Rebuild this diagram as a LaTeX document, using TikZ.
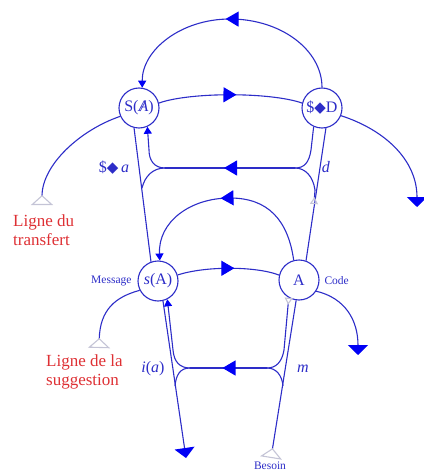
\documentclass[tikz,border=0pt]{standalone}
\usepackage{fontspec}
\setmainfont{Liberation Serif}
\newfontfamily\symfont{DejaVu Sans}
\usepackage{tikz}
\usetikzlibrary{arrows.meta,decorations.markings}

\definecolor{lineblue}{RGB}{45,45,200}
\definecolor{tipblue}{RGB}{0,0,245}
\definecolor{labelred}{RGB}{222,48,52}
\definecolor{markgray}{RGB}{196,196,214}

\newcommand{\barS}{\$}
\newcommand{\losange}{{\symfont\fontsize{15}{15}\selectfont ◆}}
\newcommand{\barA}{\ooalign{\textit{A}\cr\hidewidth\textit{/}\hidewidth}}

\begin{document}
\begin{tikzpicture}[x=1pt, y=-1pt, every node/.style={font=\fontsize{16}{18}\selectfont, text=lineblue}]
  \tikzstyle{ring} = [circle, draw=lineblue, line width=1.1pt, minimum size=40pt, inner sep=0pt]
  \tikzstyle{line} = [draw=lineblue, line width=1.1pt]
  \tikzstyle{midarrow} = [postaction={decorate}, decoration={markings, mark=at position 0.5 with {\arrow[xshift=6pt]{Triangle[width=15pt,length=13pt,color=tipblue]}}}]
  \tikzstyle{endtip} = [-{Triangle[width=8pt,length=7pt,color=tipblue]}]
  \tikzstyle{bigtip} = [-{Triangle[width=20pt,length=10pt,color=tipblue]}]
  \tikzstyle{startmark} = [{Triangle[open,reversed,width=8pt,length=7pt,color=markgray]}-]
  \tikzstyle{bigstart} = [{Triangle[open,reversed,width=22pt,length=10pt,color=markgray]}-]
  \tikzstyle{smalllabel} = [font=\fontsize{11.5}{13}\selectfont]
  \tikzstyle{redlabel} = [text=labelred, align=left, inner sep=0pt, font=\fontsize{17}{19}\selectfont]
  \useasboundingbox (0,0) rectangle (423,473);

  % Places
  \node[ring] (SA) at (139,108) {S(\barA)};
  \node[ring] (SD) at (322,108) {\barS\losange D};
  \node[ring] (sA) at (158,281) {\textit{s}(A)};
  \node[ring] (A) at (299,280) {A};

  % Free ends and forks
  \coordinate (transfert) at (42,205);
  \coordinate (suggestion) at (99,348);
  \coordinate (besoin) at (271,458);
  \coordinate (outD) at (417,207);
  \coordinate (outA) at (358,355);
  \coordinate (outsA) at (186,458);
  \coordinate (dmark) at (314,204);
  \coordinate (ur) at (295,168);
  \coordinate (ul) at (165,168);
  \coordinate (lr) at (267,368);
  \coordinate (ll) at (190,368);

  % Labels
  \node[redlabel, anchor=north west] (ltransfert) at (13,215) {Ligne du\\transfert};
  \node[redlabel, anchor=north west] (lsuggestion) at (46,355) {Ligne de la\\suggestion};
  \node (lsa) at (114,168) {\barS\losange\,\textit{a}};
  \node (ld) at (326,167) {\textit{d}};
  \node (lia) at (153,369) {\textit{i}(\textit{a})};
  \node (lm) at (303,369) {\textit{m}};
  \node[smalllabel, anchor=east] (lmessage) at (135,281) {Message};
  \node[smalllabel, anchor=west] (lcode) at (321,281) {Code};
  \node[smalllabel] (lbesoin) at (270,466) {Besoin};

  % Upper level
  \draw[line, midarrow, endtip] (SD.90) .. controls (322,50) and (281,19) .. (230,19) .. controls (181,19) and (142,50) .. (SA.81);
  \draw[line, midarrow] (SA.14) .. controls (190,92) and (270,92) .. (SD.166);
  \draw[line, bigstart] (transfert) .. controls (42,165) and (80,130) .. (SA.-156);
  \draw[line, bigtip] (SD.-22) .. controls (385,130) and (417,160) .. (outD);
  \draw[line] (SA.-104) -- (sA.110);
  \draw[line] (SD.-79) -- (A.70);
  \draw[line, midarrow] (ur) -- (ul);
  \draw[line] (SD.-114) -- (311,150) .. controls (309,163) and (304,168) .. (ur);
  \draw[line, endtip] (ul) .. controls (154,168) and (149,160) .. (149,150) -- (SA.-66);
  \draw[line, startmark] (dmark) -- (315,190) .. controls (313,176) and (305,168) .. (ur);
  \draw[line] (ul) .. controls (153,168) and (145,176) .. (142,188);

  % Lower level
  \draw[line, startmark, midarrow, endtip] (A.105) .. controls (288,220) and (268,198) .. (230,198) .. controls (190,198) and (158,222) .. (sA.85);
  \draw[line, midarrow] (sA.17) .. controls (205,266) and (255,266) .. (A.166);
  \draw[line, bigstart] (suggestion) .. controls (100,310) and (115,297) .. (sA.-153);
  \draw[line, bigtip] (A.-33) .. controls (345,298) and (358,320) .. (outA);
  \draw[line, bigtip] (sA.-76) -- (outsA);
  \draw[line, bigstart] (besoin) -- (A.-98);
  \draw[line, midarrow] (lr) -- (ll);
  \draw[line, startmark] (A.-120) -- (284,350) .. controls (282,362) and (276,368) .. (lr);
  \draw[line, endtip] (ll) .. controls (180,368) and (174,362) .. (173,350) -- (sA.-63);
  \draw[line] (ll) .. controls (180,368) and (176,375) .. (175,386);
  \draw[line] (lr) .. controls (276,368) and (282,375) .. (283,386);
\end{tikzpicture}
\end{document}
